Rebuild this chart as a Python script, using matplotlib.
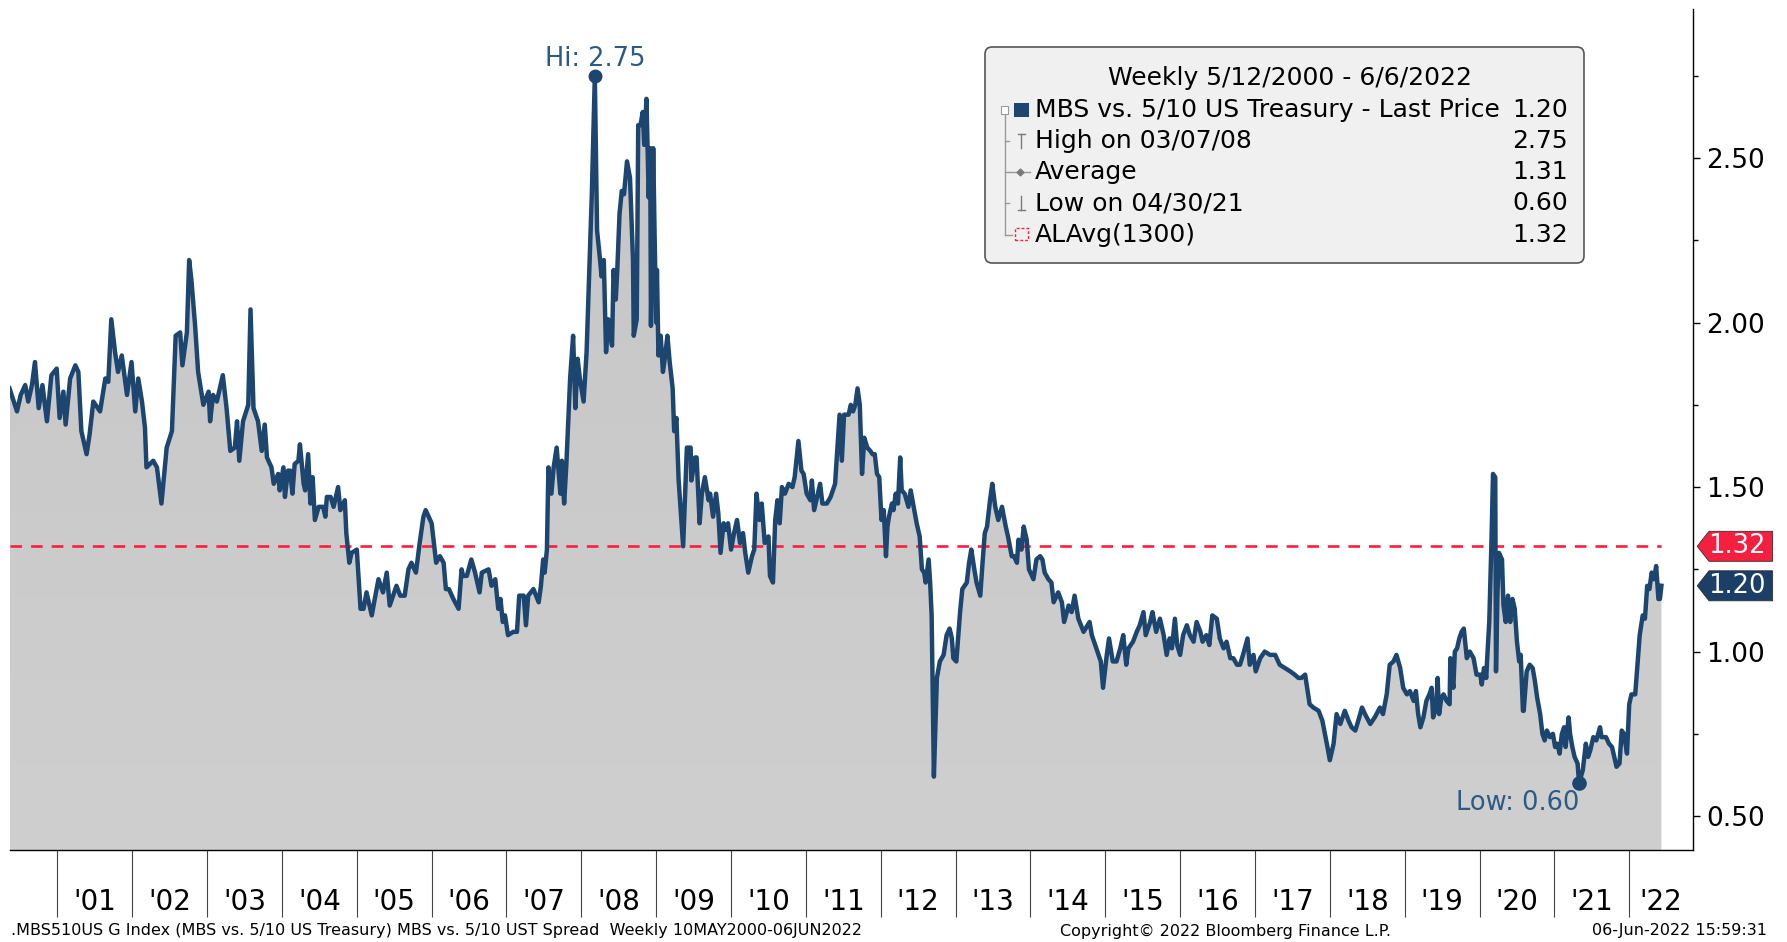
import numpy as np
import matplotlib.pyplot as plt
from matplotlib.patches import FancyBboxPatch, Polygon, Rectangle
from matplotlib.lines import Line2D
from matplotlib.colors import LinearSegmentedColormap
from matplotlib.transforms import blended_transform_factory

plt.rcParams['font.family'] = ['DejaVu Sans']

# MBS vs. 5/10 US Treasury spread, dates as decimal years
dates_00_04 = [2000.36, 2000.46, 2000.51, 2000.57, 2000.61, 2000.66, 2000.70, 2000.75, 2000.80, 2000.86, 2000.92, 2000.99,
               2001.03, 2001.08, 2001.11, 2001.17, 2001.24, 2001.28, 2001.32, 2001.39, 2001.43, 2001.48, 2001.57, 2001.64,
               2001.68, 2001.72, 2001.77, 2001.81, 2001.86, 2001.93, 2001.99,
               2002.04, 2002.08, 2002.13, 2002.17, 2002.19, 2002.28, 2002.33, 2002.39, 2002.46, 2002.53, 2002.58, 2002.64,
               2002.67, 2002.73, 2002.76, 2002.79, 2002.84, 2002.88, 2002.95,
               2003.02, 2003.04, 2003.08, 2003.13, 2003.21, 2003.26, 2003.31, 2003.37, 2003.40, 2003.43, 2003.48, 2003.55,
               2003.58, 2003.62, 2003.68, 2003.73, 2003.77, 2003.80, 2003.86, 2003.89, 2003.95, 2003.97,
               2004.02, 2004.04, 2004.08]
spread_00_04 = [1.80, 1.73, 1.78, 1.81, 1.76, 1.81, 1.88, 1.74, 1.81, 1.70, 1.84, 1.86,
                1.71, 1.79, 1.69, 1.83, 1.87, 1.85, 1.67, 1.60, 1.66, 1.76, 1.73, 1.83,
                1.82, 2.01, 1.91, 1.85, 1.90, 1.78, 1.88,
                1.73, 1.83, 1.76, 1.68, 1.56, 1.58, 1.56, 1.45, 1.62, 1.67, 1.96, 1.97,
                1.87, 1.97, 2.19, 2.13, 1.99, 1.85, 1.75,
                1.79, 1.70, 1.78, 1.76, 1.84, 1.74, 1.61, 1.62, 1.70, 1.58, 1.70, 1.75,
                2.04, 1.74, 1.70, 1.61, 1.69, 1.59, 1.56, 1.51, 1.54, 1.49,
                1.56, 1.47, 1.55]

dates_04_08 = [2004.11, 2004.14, 2004.17, 2004.22, 2004.24, 2004.29, 2004.31, 2004.35, 2004.38, 2004.41, 2004.44, 2004.49,
               2004.55, 2004.58, 2004.60, 2004.65, 2004.69, 2004.75, 2004.78, 2004.84, 2004.86, 2004.90, 2004.93,
               2005.00, 2005.05, 2005.09, 2005.13, 2005.20, 2005.24, 2005.29, 2005.35, 2005.40, 2005.44, 2005.53, 2005.58,
               2005.64, 2005.69, 2005.73, 2005.79, 2005.84, 2005.89, 2005.92, 2005.96,
               2006.00, 2006.06, 2006.11, 2006.16, 2006.19, 2006.23, 2006.29, 2006.36, 2006.40, 2006.42, 2006.47, 2006.53,
               2006.58, 2006.64, 2006.67, 2006.76, 2006.80, 2006.85, 2006.89, 2006.92, 2006.95, 2006.98,
               2007.02, 2007.09, 2007.14, 2007.17, 2007.23, 2007.26, 2007.29, 2007.36, 2007.43, 2007.46, 2007.49, 2007.51,
               2007.54, 2007.56, 2007.60, 2007.63, 2007.67, 2007.72, 2007.74, 2007.77, 2007.80, 2007.85, 2007.89, 2007.92,
               2007.95]
spread_04_08 = [1.55, 1.48, 1.57, 1.58, 1.63, 1.51, 1.49, 1.60, 1.45, 1.53, 1.40, 1.44,
                1.44, 1.41, 1.47, 1.47, 1.44, 1.50, 1.43, 1.46, 1.36, 1.27, 1.30,
                1.31, 1.13, 1.13, 1.18, 1.11, 1.16, 1.22, 1.18, 1.24, 1.14, 1.20, 1.17,
                1.17, 1.25, 1.27, 1.24, 1.33, 1.41, 1.43, 1.41,
                1.39, 1.27, 1.29, 1.27, 1.19, 1.19, 1.16, 1.13, 1.25, 1.23, 1.23, 1.28,
                1.24, 1.18, 1.24, 1.25, 1.20, 1.22, 1.13, 1.16, 1.09, 1.11,
                1.05, 1.06, 1.06, 1.17, 1.17, 1.08, 1.17, 1.19, 1.15, 1.20, 1.28, 1.24,
                1.31, 1.56, 1.48, 1.56, 1.62, 1.48, 1.58, 1.45, 1.57, 1.83, 1.96, 1.74,
                1.89]

dates_08_12 = [2007.98, 2008.03, 2008.07, 2008.14, 2008.18, 2008.21, 2008.25, 2008.27, 2008.30, 2008.33, 2008.36, 2008.41,
               2008.43, 2008.46, 2008.48, 2008.51, 2008.54, 2008.57, 2008.61, 2008.65, 2008.69, 2008.70, 2008.74, 2008.76,
               2008.79, 2008.82, 2008.84, 2008.87, 2008.90, 2008.92, 2008.93, 2008.96, 2008.98,
               2009.00, 2009.01, 2009.03, 2009.06, 2009.09, 2009.12, 2009.15, 2009.18, 2009.22, 2009.24, 2009.27, 2009.30,
               2009.33, 2009.36, 2009.41, 2009.46, 2009.47, 2009.52, 2009.54, 2009.58, 2009.61, 2009.65, 2009.70, 2009.72,
               2009.76, 2009.80, 2009.83, 2009.86, 2009.90, 2009.93, 2009.96,
               2010.00, 2010.04, 2010.08, 2010.12, 2010.16, 2010.19, 2010.23, 2010.28, 2010.31, 2010.34, 2010.38, 2010.41,
               2010.45, 2010.50, 2010.52, 2010.56, 2010.59, 2010.62, 2010.65, 2010.68, 2010.72, 2010.77, 2010.82, 2010.85,
               2010.90, 2010.94, 2010.97,
               2011.01, 2011.06, 2011.08, 2011.11, 2011.14, 2011.19, 2011.22, 2011.28, 2011.33, 2011.39, 2011.45, 2011.48,
               2011.51, 2011.57, 2011.60, 2011.63, 2011.66, 2011.69, 2011.72, 2011.75, 2011.78, 2011.82]
spread_08_12 = [1.83, 1.76, 1.91, 2.39, 2.75, 2.28, 2.19, 2.14, 2.19, 1.91, 2.01, 1.93,
                2.16, 2.07, 2.16, 2.33, 2.40, 2.39, 2.49, 2.44, 2.19, 1.96, 2.01, 2.60,
                2.60, 2.64, 2.54, 2.68, 2.38, 2.53, 1.99, 2.53, 2.25,
                2.00, 2.16, 1.90, 1.96, 1.85, 1.90, 1.96, 1.88, 1.80, 1.67, 1.71, 1.52,
                1.42, 1.32, 1.62, 1.62, 1.52, 1.59, 1.59, 1.39, 1.48, 1.53, 1.46, 1.48,
                1.41, 1.48, 1.42, 1.30, 1.39, 1.37, 1.39,
                1.31, 1.36, 1.40, 1.33, 1.36, 1.30, 1.24, 1.29, 1.31, 1.48, 1.40, 1.45,
                1.33, 1.35, 1.23, 1.21, 1.40, 1.46, 1.39, 1.50, 1.48, 1.51, 1.50, 1.53,
                1.64, 1.55, 1.54,
                1.48, 1.46, 1.52, 1.43, 1.46, 1.51, 1.45, 1.45, 1.47, 1.51, 1.72, 1.58,
                1.72, 1.72, 1.75, 1.73, 1.75, 1.80, 1.75, 1.54, 1.65, 1.62]

dates_12_15 = [2011.86, 2011.89, 2011.92, 2011.95, 2011.98,
               2012.01, 2012.04, 2012.07, 2012.09, 2012.11, 2012.15, 2012.17, 2012.20, 2012.23, 2012.26, 2012.28, 2012.32,
               2012.37, 2012.40, 2012.44, 2012.48, 2012.52, 2012.55, 2012.58, 2012.60, 2012.64, 2012.66, 2012.68, 2012.71,
               2012.75, 2012.79, 2012.84, 2012.88, 2012.92, 2012.95, 2012.97,
               2013.01, 2013.06, 2013.09, 2013.15, 2013.18, 2013.21, 2013.25, 2013.28, 2013.33, 2013.36, 2013.39, 2013.42,
               2013.46, 2013.49, 2013.53, 2013.57, 2013.62, 2013.67, 2013.70, 2013.75, 2013.78, 2013.82, 2013.84, 2013.88,
               2013.91, 2013.95, 2013.98,
               2014.04, 2014.08, 2014.13, 2014.16, 2014.19, 2014.24, 2014.28, 2014.31, 2014.37, 2014.42, 2014.45, 2014.51,
               2014.55, 2014.59, 2014.64, 2014.71, 2014.79, 2014.82, 2014.88, 2014.94, 2014.97,
               2015.02, 2015.05, 2015.10, 2015.15, 2015.20, 2015.24, 2015.28, 2015.31, 2015.37, 2015.42, 2015.46, 2015.51,
               2015.54, 2015.60, 2015.63, 2015.68]
spread_12_15 = [1.61, 1.60, 1.60, 1.54, 1.53,
                1.40, 1.43, 1.29, 1.38, 1.41, 1.45, 1.43, 1.48, 1.45, 1.59, 1.49, 1.48,
                1.44, 1.49, 1.44, 1.39, 1.35, 1.25, 1.24, 1.21, 1.28, 1.21, 1.11, 0.62,
                0.92, 0.97, 0.99, 1.05, 1.07, 1.04, 0.98,
                0.97, 1.12, 1.19, 1.21, 1.27, 1.31, 1.25, 1.21, 1.17, 1.27, 1.36, 1.38,
                1.46, 1.51, 1.44, 1.40, 1.44, 1.38, 1.35, 1.29, 1.29, 1.27, 1.34, 1.31,
                1.38, 1.34, 1.25,
                1.22, 1.28, 1.29, 1.28, 1.24, 1.22, 1.21, 1.15, 1.18, 1.15, 1.09, 1.14,
                1.12, 1.17, 1.10, 1.06, 1.09, 1.05, 1.01, 0.97, 0.89,
                0.99, 1.04, 0.97, 0.97, 1.01, 1.05, 0.96, 1.01, 1.03, 1.06, 1.08, 1.12,
                1.05, 1.09, 1.12, 1.06]

dates_15_18 = [2015.73, 2015.78, 2015.82, 2015.86, 2015.89, 2015.93, 2015.96,
               2016.00, 2016.04, 2016.09, 2016.13, 2016.18, 2016.22, 2016.27, 2016.30, 2016.35, 2016.39, 2016.43, 2016.49,
               2016.53, 2016.58, 2016.62, 2016.67, 2016.71, 2016.76, 2016.80, 2016.84, 2016.90, 2016.93, 2016.98,
               2017.01, 2017.07, 2017.13, 2017.20, 2017.27, 2017.33, 2017.40, 2017.47, 2017.53, 2017.58, 2017.62, 2017.67,
               2017.69, 2017.73, 2017.78, 2017.85, 2017.90, 2017.96,
               2018.00, 2018.05, 2018.09, 2018.14, 2018.20, 2018.25, 2018.29, 2018.34, 2018.38, 2018.43, 2018.47, 2018.54,
               2018.60, 2018.67, 2018.71, 2018.76, 2018.80, 2018.85, 2018.89]
spread_15_18 = [1.10, 1.05, 0.99, 1.04, 1.01, 1.10, 1.02,
                0.99, 1.05, 1.08, 1.05, 1.03, 1.09, 1.06, 1.03, 1.05, 1.02, 1.11, 1.10,
                1.04, 1.01, 1.03, 0.98, 0.98, 0.96, 0.96, 0.99, 1.04, 0.96, 0.99,
                0.94, 0.98, 1.00, 0.99, 0.99, 0.96, 0.95, 0.94, 0.93, 0.92, 0.92, 0.93,
                0.90, 0.84, 0.83, 0.82, 0.79, 0.72,
                0.67, 0.72, 0.81, 0.78, 0.82, 0.79, 0.77, 0.76, 0.79, 0.83, 0.81, 0.78,
                0.80, 0.83, 0.81, 0.87, 0.96, 0.97, 0.99]

dates_19_22 = [2018.94, 2018.98, 2019.03, 2019.07, 2019.12, 2019.15, 2019.18, 2019.21, 2019.25, 2019.29, 2019.33, 2019.36,
               2019.38, 2019.42, 2019.44, 2019.46, 2019.49, 2019.52, 2019.56, 2019.60, 2019.61, 2019.65, 2019.67, 2019.70,
               2019.73, 2019.76, 2019.79, 2019.83, 2019.87, 2019.92, 2019.96,
               2020.01, 2020.03, 2020.06, 2020.09, 2020.10, 2020.13, 2020.16, 2020.18, 2020.21, 2020.22, 2020.24, 2020.26,
               2020.30, 2020.32, 2020.35, 2020.38, 2020.41, 2020.44, 2020.47, 2020.50, 2020.53, 2020.55, 2020.58, 2020.59,
               2020.63, 2020.67, 2020.71, 2020.74, 2020.77, 2020.81, 2020.84, 2020.87, 2020.90, 2020.94, 2020.98,
               2021.01, 2021.04, 2021.07, 2021.10, 2021.13, 2021.15, 2021.19, 2021.21, 2021.24, 2021.27, 2021.31, 2021.33,
               2021.38, 2021.42, 2021.45, 2021.48, 2021.52, 2021.56, 2021.61, 2021.63, 2021.69, 2021.73, 2021.77, 2021.80,
               2021.83, 2021.87, 2021.90, 2021.93, 2021.97,
               2022.00, 2022.03, 2022.08, 2022.11, 2022.14, 2022.18, 2022.21, 2022.24, 2022.27, 2022.30, 2022.33, 2022.36,
               2022.39, 2022.41, 2022.43]
spread_19_22 = [0.95, 0.89, 0.87, 0.88, 0.85, 0.88, 0.81, 0.77, 0.80, 0.85, 0.87, 0.89,
                0.80, 0.83, 0.92, 0.81, 0.86, 0.87, 0.85, 0.84, 0.98, 0.89, 1.00, 1.01,
                1.04, 1.06, 1.07, 0.98, 1.00, 0.98, 0.93,
                0.93, 0.90, 0.95, 0.92, 0.97, 1.09, 1.34, 1.54, 1.53, 0.94, 1.18, 1.30,
                1.28, 1.14, 1.09, 1.17, 1.09, 1.16, 1.13, 1.03, 0.97, 0.99, 0.82, 0.82,
                0.94, 0.96, 0.95, 0.91, 0.86, 0.81, 0.75, 0.73, 0.76, 0.74, 0.75,
                0.71, 0.72, 0.69, 0.75, 0.77, 0.71, 0.80, 0.75, 0.71, 0.68, 0.66, 0.60,
                0.64, 0.72, 0.68, 0.70, 0.74, 0.73, 0.77, 0.74, 0.74, 0.72, 0.71, 0.68,
                0.65, 0.66, 0.76, 0.75, 0.69,
                0.84, 0.87, 0.87, 0.96, 1.05, 1.11, 1.10, 1.20, 1.19, 1.24, 1.22, 1.26,
                1.16, 1.16, 1.20]

last_price = 1.20
high_date, high_value = 2008.18, 2.75
average = 1.31
low_date, low_value = 2021.33, 0.60
alavg = 1.32

legend_labels = ['MBS vs. 5/10 US Treasury - Last Price', 'High on 03/07/08', 'Average',
                 'Low on 04/30/21', 'ALAvg(1300)']
legend_values = [last_price, high_value, average, low_value, alavg]

years = list(range(2001, 2023))
year_labels = ["'%02d" % (y % 100) for y in years]

dates = np.concatenate([dates_00_04, dates_04_08, dates_08_12, dates_12_15, dates_15_18, dates_19_22])
spread = np.concatenate([spread_00_04, spread_04_08, spread_08_12, spread_12_15, spread_15_18, spread_19_22])

navy = '#1c4570'
label_blue = '#2c5a86'
red = '#ff1e3c'
tree_gray = '#9a9a9a'

W, H = 1787, 942
fig = plt.figure(figsize=(W / 100, H / 100), dpi=100)


def fx(x):
    return x / W


def fy(y):
    return 1 - y / H


ax = fig.add_axes([fx(9.5), fy(850), fx(1693) - fx(9.5), fy(9) - fy(850)])
x0, x1 = 2000.36, 2022.852
y0, y1 = 0.397, 2.953

# grey area under the spread, slightly graded
area = ax.fill_between(dates, spread, y0, color='none', lw=0)
shade = LinearSegmentedColormap.from_list('shade', ['#cfcfcf', '#c5c5c5'])
img = ax.imshow(np.linspace(0, 1, 256).reshape(-1, 1), extent=[x0, x1, y0, y1], origin='lower',
                aspect='auto', cmap=shade, zorder=1)
img.set_clip_path(area.get_paths()[0], transform=ax.transData)

ax.plot(dates, spread, color=navy, lw=3.2, solid_joinstyle='round', zorder=3)
ax.hlines(alavg, dates[0], dates[-1], colors=red, linestyles=(0, (4.4, 3.4)), lw=1.9, zorder=2)

# high / low markers
ax.plot(high_date, high_value, 'o', ms=9, color=navy, zorder=4)
ax.annotate('Hi: %.2f' % high_value, (high_date, high_value), xytext=(0, 12), textcoords='offset points',
            ha='center', va='center', fontsize=18.5, color=label_blue)
ax.plot(low_date, low_value, 'o', ms=9.5, color=navy, zorder=4)
ax.annotate('Low: %.2f' % low_value, (low_date, low_value), xytext=(0, -14), textcoords='offset points',
            ha='right', va='center', fontsize=18.5, color=label_blue)

ax.set_xlim(x0, x1)
ax.set_ylim(y0, y1)

# axes styling
for side in ['left', 'top']:
    ax.spines[side].set_visible(False)
for side in ['right', 'bottom']:
    ax.spines[side].set_color('black')
    ax.spines[side].set_linewidth(1)

ax.yaxis.tick_right()
ax.set_yticks([0.5, 1.0, 1.5, 2.0, 2.5])
ax.set_yticklabels(['%.2f' % v for v in [0.5, 1.0, 1.5, 2.0, 2.5]])
ax.set_yticks([0.75, 1.25, 1.75, 2.25, 2.75], minor=True)
ax.tick_params(axis='y', which='major', direction='out', length=5, width=1, pad=4.5, labelsize=19)
ax.tick_params(axis='y', which='minor', direction='out', length=3.5, width=1)

label_pos = [(max(y, x0) + min(y + 1, x1)) / 2 for y in years]
ax.set_xticks(years)
ax.set_xticklabels([])
ax.set_xticks(label_pos, minor=True)
ax.set_xticklabels(year_labels, minor=True)
ax.tick_params(axis='x', which='major', direction='out', length=48, width=0.8, color='#444444')
ax.tick_params(axis='x', which='minor', length=0, pad=27, labelsize=20)

# value tags on the right axis
tag = blended_transform_factory(ax.transAxes, ax.transData)
half = 15 / 329
for value, color in [(alavg, '#f5203f'), (last_price, '#1b3f66')]:
    tip, shoulder, end = 1.0025, 1.0095, 1.0473
    ax.add_patch(Polygon([[tip, value], [shoulder, value + half], [end, value + half],
                          [end, value - half], [shoulder, value - half]], closed=True,
                         transform=tag, clip_on=False, fc=color, ec='#303030', lw=0.6, zorder=5))
    ax.text(1.0262, value, '%.2f' % value, transform=tag, ha='center', va='center',
            color='white', fontsize=18.5, clip_on=False, zorder=6)

# legend box
box = FancyBboxPatch((fx(985), fy(263)), fx(1584) - fx(985), fy(47) - fy(263),
                     boxstyle='round,pad=0,rounding_size=0.004', mutation_aspect=W / H,
                     fc='#f0f0f0', ec='#555555', lw=1.2, transform=fig.transFigure, zorder=10)
fig.add_artist(box)
fig.text(fx(1290), fy(78), 'Weekly 5/12/2000 - 6/6/2022', ha='center', va='center', fontsize=18, zorder=11)
rows = [110, 141, 172, 203, 235]
for y, label, value in zip(rows, legend_labels, legend_values):
    fig.text(fx(1035), fy(y), label, ha='left', va='center', fontsize=18, zorder=11)
    fig.text(fx(1568), fy(y), '%.2f' % value, ha='right', va='center', fontsize=18, zorder=11)


def seg(xs, ys, **kw):
    fig.add_artist(Line2D([fx(x) for x in xs], [fy(y) for y in ys], transform=fig.transFigure,
                          zorder=11, **kw))


# tree lines
seg([1004.5, 1004.5], [114, 235], color=tree_gray, lw=1)
for y in rows[1:4]:
    seg([1004.5, 1009], [y, y], color=tree_gray, lw=1)
seg([1004.5, 1012], [235, 235], color=tree_gray, lw=1)
fig.add_artist(Rectangle((fx(1001), fy(114)), fx(7), fy(106) - fy(114), transform=fig.transFigure,
                         fc='white', ec=tree_gray, lw=0.8, zorder=12))
seg([1002.5, 1006.5], [110, 110], color='#666666', lw=0.8)
# series swatch
fig.add_artist(Rectangle((fx(1014), fy(117)), fx(15), fy(103) - fy(117), transform=fig.transFigure,
                         fc=navy, ec='none', zorder=12))
# high / average / low glyphs
seg([1018, 1025], [134, 134], color='#7a7a7a', lw=1)
seg([1021.5, 1021.5], [134, 148], color='#7a7a7a', lw=1)
seg([1009, 1030], [172, 172], color='#9a9a9a', lw=1)
seg([1020], [172], color='#7a7a7a', marker='D', ms=3.5, lw=0)
seg([1021.5, 1021.5], [196, 210], color='#7a7a7a', lw=1)
seg([1018, 1025], [210, 210], color='#7a7a7a', lw=1)
# moving-average swatch
fig.add_artist(Rectangle((fx(1015), fy(240)), fx(13), fy(228) - fy(240), transform=fig.transFigure,
                         fc='none', ec=red, lw=1, ls=(0, (2, 1.5)), zorder=12))

# footer
fig.text(fx(11), fy(931), '.MBS510US G Index (MBS vs. 5/10 US Treasury) MBS vs. 5/10 UST Spread  '
         'Weekly 10MAY2000-06JUN2022', ha='left', va='center', fontsize=11.5)
fig.text(fx(1226), fy(931), 'Copyright\u00a9 2022 Bloomberg Finance L.P.', ha='center', va='center', fontsize=11.5)
fig.text(fx(1767), fy(931), '06-Jun-2022 15:59:31', ha='right', va='center', fontsize=11.5)

fig.savefig('out.png', dpi=100, facecolor='white')
